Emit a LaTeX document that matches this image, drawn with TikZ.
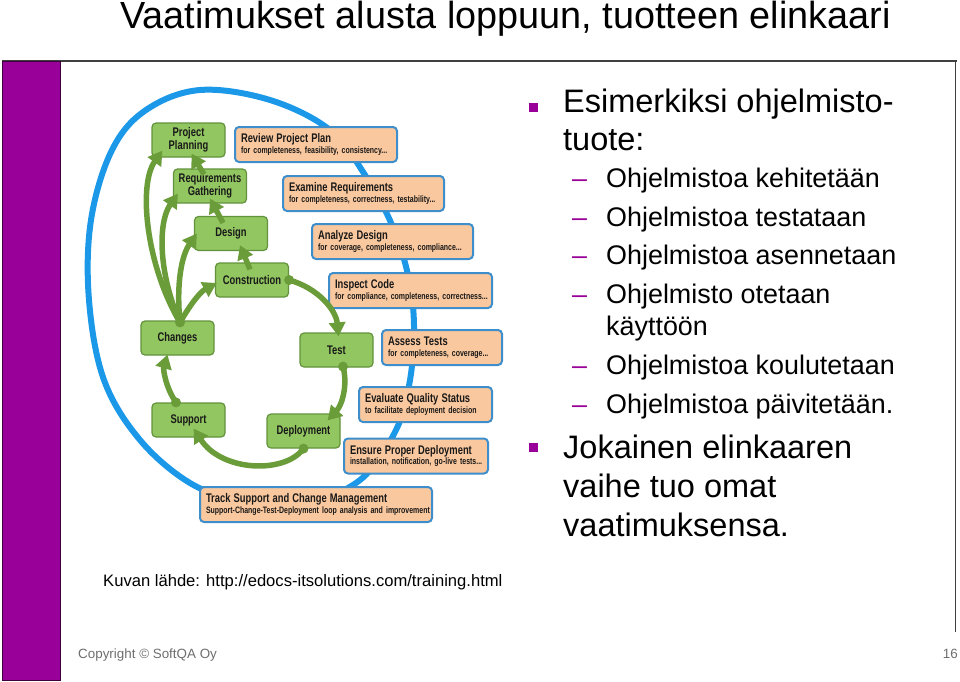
\documentclass[tikz,border=0pt]{standalone}
\usepackage{fontspec}
\setmainfont{Liberation Sans}
\newfontfamily\diagfont[FakeStretch=0.75]{Liberation Sans}
\usetikzlibrary{arrows.meta,calc}

\definecolor{slidepurple}{RGB}{153,0,153}
\definecolor{boxgreen}{RGB}{146,198,96}
\definecolor{edgegreen}{RGB}{98,146,60}
\definecolor{arrowgreen}{RGB}{106,156,58}
\definecolor{boxpeach}{RGB}{250,200,158}
\definecolor{edgeblue}{RGB}{62,142,204}
\definecolor{cycleblue}{RGB}{28,152,232}
\definecolor{footgray}{RGB}{110,110,110}

\newcommand{\otitle}[1]{{\fontsize{12.5}{14}\selectfont #1}}
\newcommand{\osub}[1]{\mbox{#1}}

\tikzset{
  gbox/.style={draw=edgegreen, fill=boxgreen, line width=1.2pt, rounded corners=4pt,
    minimum width=73pt, minimum height=34pt, align=center, inner sep=1pt,
    text=black!90, font=\diagfont\bfseries\fontsize{12.5}{13}\selectfont},
  obox/.style={draw=edgeblue, fill=boxpeach, line width=2pt, rounded corners=4pt,
    minimum height=35pt, text width=#1, inner xsep=6pt, inner ysep=2pt, align=left,
    text=black!90, font=\diagfont\bfseries\fontsize{9.3}{10.5}\selectfont},
  flow/.style={arrowgreen, line width=5.5pt, -{Triangle[length=14pt,width=16pt]}},
  gdot/.style={circle, fill=arrowgreen, inner sep=0pt, minimum size=10pt},
  bigtext/.style={anchor=base west, inner sep=0pt, font=\fontsize{32.5}{38}\selectfont},
  subtext/.style={anchor=base west, inner sep=0pt, font=\fontsize{26.9}{32}\selectfont},
  sqbullet/.style={fill=slidepurple, inner sep=0pt, minimum size=9pt},
  dashbullet/.style={anchor=base west, inner sep=0pt, text=slidepurple, font=\fontsize{26.9}{32}\selectfont}
}

\begin{document}
\begin{tikzpicture}[x=1pt,y=-1pt]
\useasboundingbox (0,0) rectangle (960,681);

% Frame and side bar
\draw[black!75, line width=1.3pt] (2,61) -- (957,61);
\draw[black!75, line width=1.3pt] (955.5,61) -- (955.5,632);
\filldraw[fill=slidepurple, draw=black!60!slidepurple, line width=1pt] (2,61) rectangle (60,680);

% Title
\node[anchor=base west, inner sep=0pt, font=\fontsize{37.8}{42}\selectfont] (title) at (120,28)
  {Vaatimukset alusta loppuun, tuotteen elinkaari};

% Blue cycle
\draw[cycleblue, line width=6pt] plot[smooth cycle, tension=0.6] coordinates {
  (200,90) (270,100) (330,130) (365,175) (392,225) (408,275) (414,325) (410,380)
  (396,430) (360,480) (300,505) (240,500) (190,483) (140,440) (104,380) (89,300)
  (91,220) (112,150) (146,110)};

% Review boxes
\node[obox=150pt] (review) at (316,144.5)
  {\otitle{Review Project Plan}\\\osub{for completeness, feasibility, consistency...}};
\node[obox=149pt] (exam) at (363.5,193.5)
  {\otitle{Examine Requirements}\\\osub{for completeness, correctness, testability...}};
\node[obox=149pt] (analyze) at (392.5,241.5)
  {\otitle{Analyze Design}\\\osub{for coverage, completeness, compliance...}};
\node[obox=151pt] (inspect) at (410.5,290.5)
  {\otitle{Inspect Code}\\\osub{for compliance, completeness, correctness...}};
\node[obox=108pt] (assess) at (442,347.5)
  {\otitle{Assess Tests}\\\osub{for completeness, coverage...}};
\node[obox=121pt] (evaluate) at (425.5,404.5)
  {\otitle{Evaluate Quality Status}\\\osub{to facilitate deployment decision}};
\node[obox=132pt] (ensure) at (416,456)
  {\otitle{Ensure Proper Deployment}\\\osub{installation, notification, go-live tests...}};
\node[obox=220pt] (track) at (316,504.5)
  {\otitle{Track Support and Change Management}\\\osub{Support-Change-Test-Deployment loop analysis and improvement}};

% Phase boxes
\node[gbox] (plan)    at (188.5,140) {Project\\Planning};
\node[gbox] (req)     at (210,186)   {Requirements\\Gathering};
\node[gbox] (design)  at (231,233.5) {Design};
\node[gbox] (constr)  at (252,280)   {Construction};
\node[gbox] (changes) at (177.5,338) {Changes};
\node[gbox] (test)    at (336.5,350) {Test};
\node[gbox] (support) at (188.5,420) {Support};
\node[gbox] (deploy)  at (303.5,431) {Deployment};

% Dots
\node[gdot] (dc)  at (constr.east) {};
\node[gdot] (dt)  at ($(test.south)+(6.5,-1)$) {};
\node[gdot] (dd)  at (deploy.south) {};
\node[gdot] (ds)  at ($(support.north)+(-12.5,0)$) {};
\node[gdot] (dch) at ($(changes.north)+(2.5,2)$) {};

% Loop arrows
\draw[flow] (dc.center) .. controls (318,288) and (336,310) .. ($(test.north)+(2,4)$);
\draw[flow] (dt.center) .. controls (348,385) and (342,405) .. ($(deploy.north east)+(-13,7)$);
\draw[flow] (dd.center) .. controls (285,474) and (222,472) .. ($(support.south east)+(-32,-9)$);
\draw[flow] (ds.center) .. controls (166,388) and (163,370) .. ($(changes.south)+(-10,-1)$);

% Arrows from changes
\draw[flow] (dch.center) .. controls (146,265) and (138,185) .. ($(plan.south west)+(11,-7)$);
\draw[flow] (dch.center) .. controls (158,272) and (158,222) .. ($(req.south west)+(5,-10)$);
\draw[flow] (dch.center) .. controls (176,282) and (182,255) .. ($(design.west)+(3,0)$);
\draw[flow] (dch.center) .. controls (190,305) and (200,292) .. ($(constr.west)+(2,3)$);

% Back arrows between phases
\draw[flow] ($(req.north)+(-6,6)$) -- ($(plan.south)+(3,-4)$);
\draw[flow] ($(design.north)+(-8,7)$) -- ($(req.south)+(0,-5)$);
\draw[flow] ($(constr.north)+(-2,7)$) -- ($(design.south)+(9,-6)$);

% Bullet list
\node[sqbullet] (q1) at (533,107) {};
\node[bigtext] (b1) at (563,112) {Esimerkiksi ohjelmisto-};
\node[bigtext] (b1b) at (563,150) {tuote:};
\node[dashbullet] (d1) at (572,187) {–};
\node[subtext] (s1) at (606,187) {Ohjelmistoa kehitetään};
\node[dashbullet] (d2) at (572,226) {–};
\node[subtext] (s2) at (606,226) {Ohjelmistoa testataan};
\node[dashbullet] (d3) at (572,264) {–};
\node[subtext] (s3) at (606,264) {Ohjelmistoa asennetaan};
\node[dashbullet] (d4) at (572,303) {–};
\node[subtext] (s4) at (606,303) {Ohjelmisto otetaan};
\node[subtext] (s4b) at (606,335) {käyttöön};
\node[dashbullet] (d5) at (572,374) {–};
\node[subtext] (s5) at (606,374) {Ohjelmistoa koulutetaan};
\node[dashbullet] (d6) at (572,413) {–};
\node[subtext] (s6) at (606,413) {Ohjelmistoa päivitetään.};
\node[sqbullet] (q2) at (533,447) {};
\node[bigtext] (b2) at (563,458) {Jokainen elinkaaren};
\node[bigtext] (b2b) at (563,497) {vaihe tuo omat};
\node[bigtext] (b2c) at (563,536) {vaatimuksensa.};

% Source and footer
\node[anchor=base west, inner sep=0pt, font=\fontsize{16.6}{19}\selectfont] (source) at (103,586)
  {Kuvan lähde: http://edocs-itsolutions.com/training.html};
\node[anchor=base west, inner sep=0pt, text=footgray, font=\fontsize{13.4}{16}\selectfont] (copy) at (78,658)
  {Copyright © SoftQA Oy};
\node[anchor=base east, inner sep=0pt, text=footgray, font=\fontsize{13.4}{16}\selectfont] (page) at (958,658) {16};

\end{tikzpicture}
\end{document}
